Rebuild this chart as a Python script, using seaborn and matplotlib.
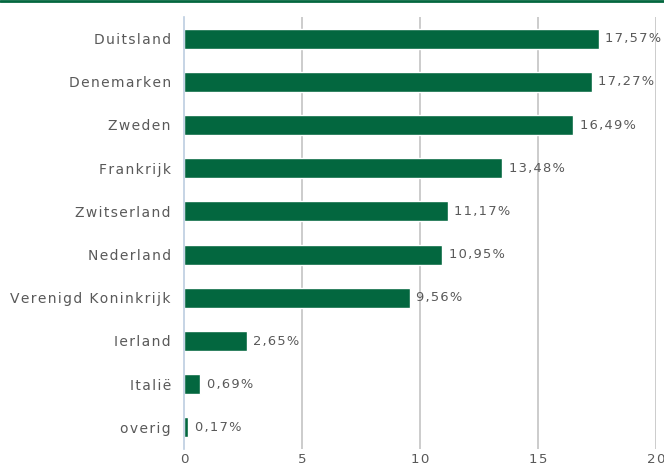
import numpy as np
import matplotlib.pyplot as plt
import seaborn as sns
import pandas as pd
from matplotlib.lines import Line2D

landen = ["Duitsland", "Denemarken", "Zweden", "Frankrijk", "Zwitserland",
          "Nederland", "Verenigd Koninkrijk", "Ierland", "Italië", "overig"]
percentages = [17.57, 17.27, 16.49, 13.48, 11.17, 10.95, 9.56, 2.65, 0.69, 0.17]
x_ticks = [0, 5, 10, 15, 20]

groen = "#03673f"
grijs = "#595959"


def spatie(s):
    # letters wat uit elkaar zetten, zoals in het origineel
    return "\u200a".join(s)


data = pd.DataFrame({"land": landen, "pct": percentages})

sns.set_style("white")
fig = plt.figure(figsize=(6.64, 4.68), dpi=100)
ax = fig.add_axes([184 / 664, 19 / 468, 472 / 664, 432 / 468])

sns.barplot(data=data, x="pct", y="land", orient="h", color=groen,
            saturation=1, width=0.46, ax=ax)

ax.set_xlim(0, 20)
ax.set_ylim(len(landen) - 0.5, -0.5)
ax.set_xticks(x_ticks)
ax.set_xticklabels([spatie(str(t)) for t in x_ticks], color=grijs, fontsize=9.6)
ax.set_yticks(range(len(landen)))
ax.set_yticklabels([spatie(l) for l in landen], color=grijs, fontsize=10)
ax.tick_params(axis="y", length=0, pad=9.5)
ax.tick_params(axis="x", length=0, pad=3)
ax.set_yticks(np.arange(-0.5, len(landen), 1), minor=True)
ax.tick_params(axis="y", which="minor", length=5, color="#bccde0", width=1.2)
ax.set_xlabel("")
ax.set_ylabel("")

for x in x_ticks[1:]:
    ax.axvline(x, color="#c4c4c4", lw=1.2, zorder=0)

for s in ["top", "right", "bottom"]:
    ax.spines[s].set_visible(False)
ax.spines["left"].set_color("#bccde0")
ax.spines["left"].set_linewidth(1.2)

for i, v in enumerate(percentages):
    ax.text(v + 0.28, i, spatie(f"{v:.2f}%".replace(".", ",")), va="center",
            ha="left", color=grijs, fontsize=9.4)

fig.add_artist(Line2D([0, 1], [0.997, 0.997], color=groen, lw=2,
                      transform=fig.transFigure))

fig.savefig("out.png", dpi=100)
